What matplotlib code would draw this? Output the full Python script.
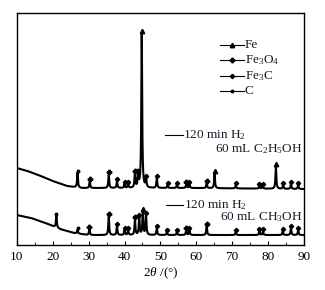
import numpy as np
import matplotlib.pyplot as plt

plt.rcParams['font.family'] = ['Liberation Serif', 'DejaVu Serif']
plt.rcParams['mathtext.fontset'] = 'custom'
plt.rcParams['mathtext.rm'] = 'Liberation Serif'
plt.rcParams['mathtext.it'] = 'Liberation Serif:italic'

# baseline anchors (2theta, intensity) for each pattern
base_x_c2 = [10, 13, 16, 20, 24, 28, 40, 60, 90]
base_y_c2 = [77, 74, 70, 64, 59, 57, 57, 57, 56]
base_x_ch = [10, 14, 18, 22, 26, 30, 60, 90]
base_y_ch = [30, 27, 22, 16, 12, 10, 10, 10]

# peaks: position, height above baseline, phase
pk_c2_pos = [26.9, 30.3, 35.6, 37.9, 40.0, 41.0, 42.9, 43.8, 44.8, 46.0, 49.0,
             52.0, 54.6, 57.2, 58.1, 62.9, 65.1, 71.0, 77.6, 78.5, 82.2, 84.2, 86.4, 88.4]
pk_c2_h = [15, 7, 14, 7, 4, 4, 15, 15, 155, 10, 10,
           3, 3, 4, 4, 5, 15, 3, 3, 3, 23, 4, 5, 4]
pk_c2_ph = ['C', 'Fe3O4', 'Fe3O4', 'Fe3C', 'Fe3C', 'Fe3C', 'Fe3O4', 'Fe3C', 'Fe', 'Fe3C', 'Fe3C',
            'Fe3C', 'Fe3C', 'Fe3O4', 'Fe3C', 'Fe3O4', 'Fe', 'Fe3C', 'Fe3C', 'Fe3C', 'Fe', 'Fe3C', 'Fe3C', 'Fe3C']

pk_ch_pos = [21.0, 26.9, 30.2, 35.6, 37.9, 40.0, 41.0, 42.9, 44.1, 45.1, 46.0, 49.0,
             51.8, 54.6, 57.2, 58.1, 62.9, 71.0, 77.6, 78.6, 84.1, 86.4, 88.4]
pk_ch_h = [12, 4, 6, 19, 9, 5, 5, 16, 18, 24, 20, 7,
           3, 3, 5, 5, 9, 3, 4, 4, 4, 7, 5]
pk_ch_ph = ['C', 'C', 'Fe3O4', 'Fe3O4', 'Fe3C', 'Fe3C', 'Fe3C', 'Fe3O4', 'Fe3C', 'Fe', 'Fe3C', 'Fe3C',
            'Fe3C', 'Fe3C', 'Fe3O4', 'Fe3C', 'Fe3O4', 'Fe3C', 'Fe3C', 'Fe3C', 'Fe3C', 'Fe3C', 'Fe3C']

phases = ['Fe', 'Fe3O4', 'Fe3C', 'C']
phase_labels = ['Fe', r'Fe$_3$O$_4$', r'Fe$_3$C', 'C']
phase_marker = {'Fe': '^', 'Fe3O4': 'P', 'Fe3C': 'D', 'C': 'o'}
phase_ms = {'Fe': 3.2, 'Fe3O4': 3.2, 'Fe3C': 2.2, 'C': 1.8}


def pattern(x, bx, by, pos, h):
    y = np.interp(x, bx, by)
    for p, a in zip(pos, h):
        y = y + a / (1 + ((x - p) / 0.14) ** 2)
    return y


x = np.linspace(10, 90, 4000)
fig = plt.figure(figsize=(3.25, 2.9), dpi=100)
ax = fig.add_axes([0.052, 0.155, 0.883, 0.80])

for bx, by, pos, h, ph in [(base_x_c2, base_y_c2, pk_c2_pos, pk_c2_h, pk_c2_ph),
                           (base_x_ch, base_y_ch, pk_ch_pos, pk_ch_h, pk_ch_ph)]:
    y = pattern(x, bx, by, pos, h)
    ax.plot(x, y, color='black', lw=1.5)
    for p, a, f in zip(pos, h, ph):
        top = np.interp(p, bx, by) + a + 2
        ax.plot(p, top, marker=phase_marker[f], ms=phase_ms[f], color='black', ls='none')

# phase legend
for i, (f, lab) in enumerate(zip(phases, phase_labels)):
    yy = 200 - i * 15.3
    ax.plot([66.5, 73.3], [yy, yy], color='black', lw=0.8)
    ax.plot(69.9, yy, marker=phase_marker[f], ms=phase_ms[f], color='black')
    ax.text(73.5, yy, lab, fontsize=9.5, va='center', ha='left', color='#1a1a2a')

# sample labels
ax.plot([51.3, 56.2], [110, 110], color='black', lw=0.8)
ax.text(56.4, 110, r'120 min H$_2$', fontsize=9.5, va='center', color='#1a1a2a')
ax.text(89.6, 96, r'60 mL C$_2$H$_5$OH', fontsize=9.5, va='center', ha='right', color='#1a1a2a')
ax.plot([51.5, 56.4], [40, 40], color='black', lw=0.8)
ax.text(56.6, 40, r'120 min H$_2$', fontsize=9.5, va='center', color='#1a1a2a')
ax.text(89.6, 28, r'60 mL CH$_3$OH', fontsize=9.5, va='center', ha='right', color='#1a1a2a')

ax.set_xlim(10, 90)
ax.set_ylim(0, 232)
ax.set_xticks(range(10, 91, 10))
ax.set_xticks(range(15, 90, 10), minor=True)
ax.set_yticks([])
ax.tick_params(axis='x', direction='in', length=3, labelsize=9.5, pad=4)
ax.tick_params(axis='x', which='minor', direction='in', length=2)
for s in ax.spines.values():
    s.set_linewidth(1.0)
ax.set_xlabel(r'2$\it{\theta}$ /(°)', fontsize=9.5, labelpad=2)

fig.savefig('out.png', dpi=100)
